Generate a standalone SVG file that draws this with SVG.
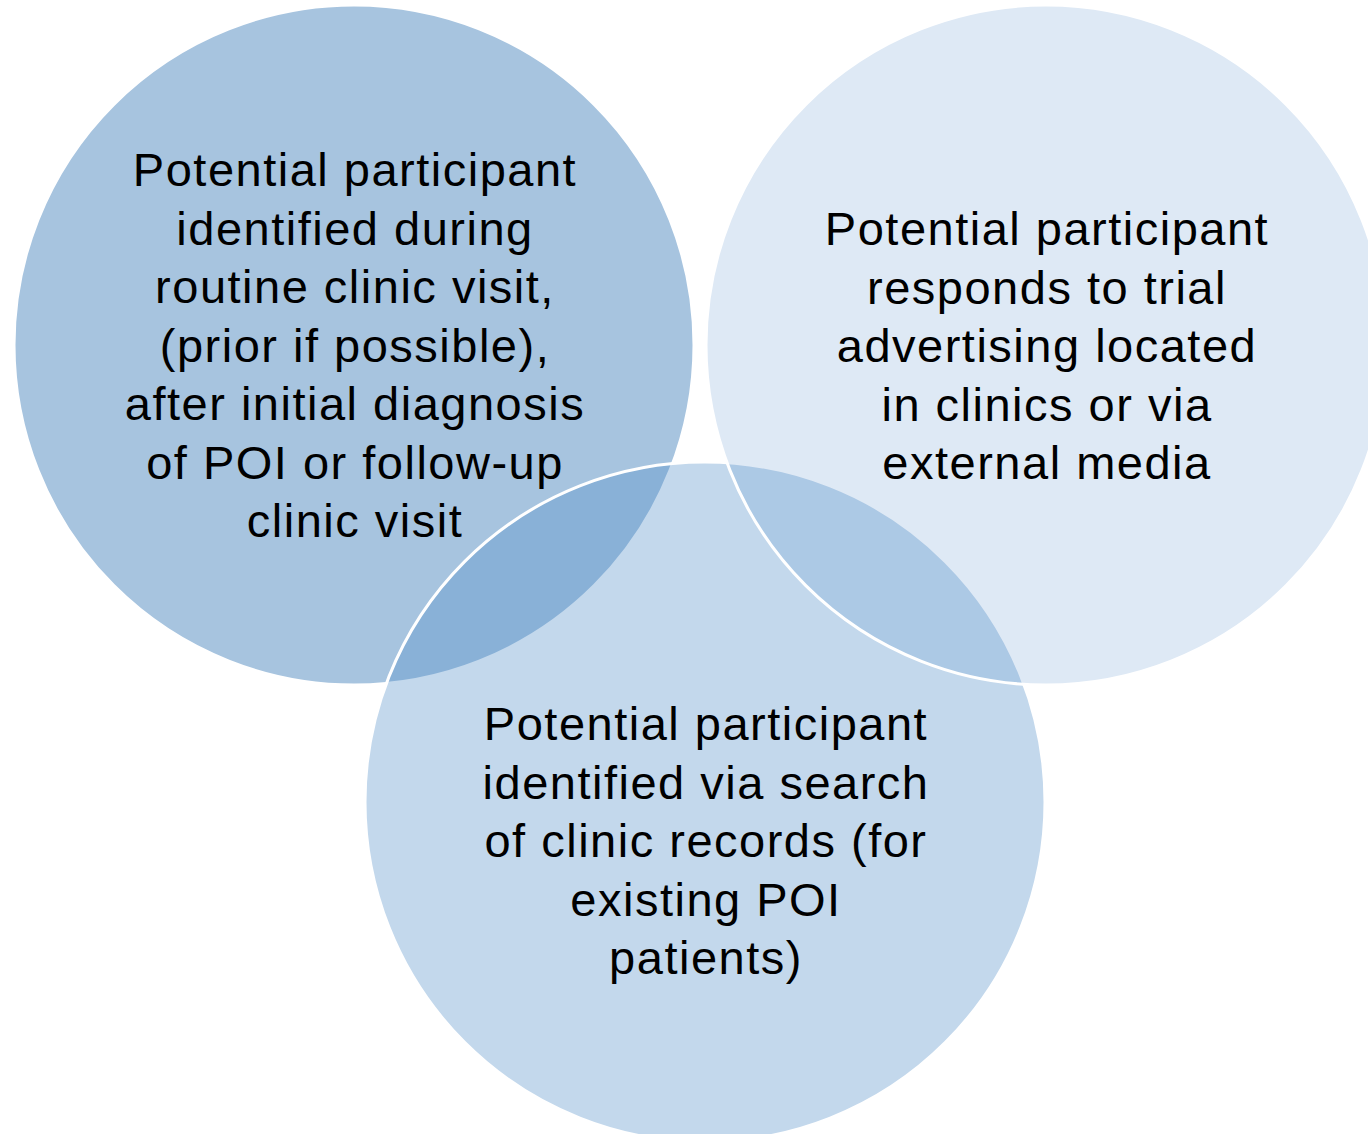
<svg xmlns="http://www.w3.org/2000/svg" width="1368" height="1134" viewBox="0 0 1368 1134">
  <style>
    .lbl { font-family: "Liberation Sans", Arial, sans-serif; font-size: 47px; letter-spacing: 1.5px; fill: #000000; text-anchor: middle; }
  </style>
  <rect x="0" y="0" width="1368" height="1134" fill="#ffffff"/>
  <g id="circle-left">
    <circle cx="354" cy="345" r="340" fill="#a7c4df" stroke="#ffffff" stroke-width="3"/>
  </g>
  <g id="circle-bottom">
    <circle cx="705" cy="802" r="340" fill="#5490c8" fill-opacity="0.35" stroke="#ffffff" stroke-width="3"/>
  </g>
  <g id="circle-right">
    <circle cx="1046" cy="345" r="340" fill="#4885c8" fill-opacity="0.18" stroke="#ffffff" stroke-width="3"/>
  </g>
  <g id="labels-left">
    <text class="lbl" x="355" y="186">Potential participant</text>
    <text class="lbl" x="355" y="244.5">identified during</text>
    <text class="lbl" x="355" y="303">routine clinic visit,</text>
    <text class="lbl" x="355" y="361.5">(prior if possible),</text>
    <text class="lbl" x="355" y="420">after initial diagnosis</text>
    <text class="lbl" x="355" y="478.5">of POI or follow-up</text>
    <text class="lbl" x="355" y="537">clinic visit</text>
  </g>
  <g id="labels-right">
    <text class="lbl" x="1047" y="245">Potential participant</text>
    <text class="lbl" x="1047" y="303.5">responds to trial</text>
    <text class="lbl" x="1047" y="362">advertising located</text>
    <text class="lbl" x="1047" y="420.5">in clinics or via</text>
    <text class="lbl" x="1047" y="479">external media</text>
  </g>
  <g id="labels-bottom">
    <text class="lbl" x="706" y="740">Potential participant</text>
    <text class="lbl" x="706" y="798.5">identified via search</text>
    <text class="lbl" x="706" y="857">of clinic records (for</text>
    <text class="lbl" x="706" y="915.5">existing POI</text>
    <text class="lbl" x="706" y="974">patients)</text>
  </g>
</svg>
